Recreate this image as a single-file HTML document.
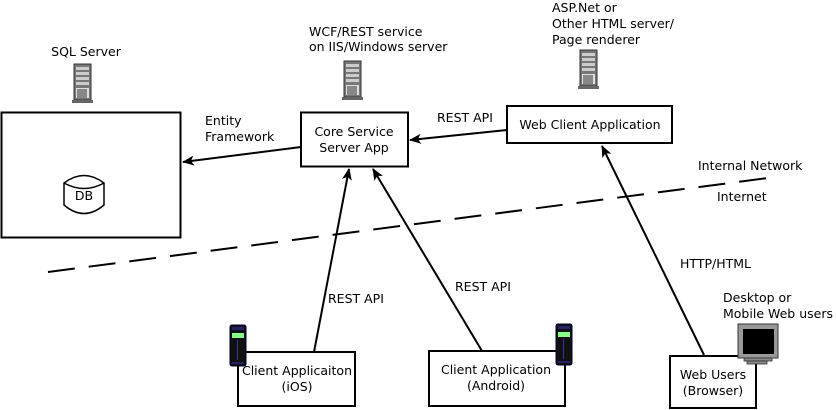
<!DOCTYPE html>
<html><head><meta charset="utf-8"><style>
html,body{margin:0;padding:0;background:#fff}
svg{display:block}
text{font-family:"DejaVu Sans","Liberation Sans",sans-serif;font-size:12.5px;fill:#000}
</style></head><body>
<svg width="836" height="410" viewBox="0 0 836 410" xmlns="http://www.w3.org/2000/svg">
<defs>
<marker id="ah" viewBox="0 0 12 10" refX="11" refY="5" markerWidth="12" markerHeight="10" markerUnits="userSpaceOnUse" orient="auto">
<path d="M0,0 L12,5 L0,10 L3,5 Z" fill="#000"/>
</marker>
<g id="srv">
<rect x="2" y="0" width="17" height="36" fill="#777" stroke="#333" stroke-width="1"/>
<rect x="4" y="3" width="13" height="3" fill="#ccc"/>
<rect x="4" y="8" width="13" height="3" fill="#ccc"/>
<rect x="4" y="13" width="13" height="3" fill="#ccc"/>
<rect x="4" y="18" width="13" height="3" fill="#ccc"/>
<rect x="4" y="24" width="13" height="10" fill="#ddd"/>
<path d="M6,25V34M8,25V34M10,25V34M12,25V34M14,25V34" stroke="#333" stroke-width="1"/>
<rect x="0" y="36" width="21" height="3" fill="#666"/>
</g>
<g id="phone">
<rect x="0" y="0" width="16" height="41" rx="2" fill="#111" stroke="#003" stroke-width="1"/>
<rect x="2" y="2" width="12" height="3" fill="#226"/>
<rect x="2" y="8" width="12" height="5" fill="#8f8"/>
<rect x="7" y="15" width="1" height="20" fill="#33a"/>
<rect x="2" y="37" width="12" height="2" fill="#226"/>
</g>
</defs>

<rect x="1.5" y="112.5" width="179" height="125" fill="#fff" stroke="#000" stroke-width="2"/>
<text x="86" y="56" text-anchor="middle">SQL Server</text>
<use href="#srv" x="72" y="64"/>
<path d="M64,183 Q84,168 104,183 L104,205 Q84,222 64,205 Z" fill="#fff" stroke="#000" stroke-width="1.5"/>
<path d="M64,183 Q84,194 104,183" fill="none" stroke="#000" stroke-width="1.5"/>
<text x="84" y="200" text-anchor="middle">DB</text>

<rect x="301" y="112.5" width="107" height="54" fill="#fff" stroke="#000" stroke-width="2"/>
<text x="354" y="136" text-anchor="middle">Core Service</text>
<text x="354" y="152" text-anchor="middle">Server App</text>
<text x="309" y="36">WCF/REST service</text>
<text x="309" y="51">on IIS/Windows server</text>
<use href="#srv" x="342" y="61"/>

<rect x="507" y="106" width="165" height="37" fill="#fff" stroke="#000" stroke-width="2"/>
<text x="590" y="129" text-anchor="middle">Web Client Application</text>
<text x="552" y="12">ASP.Net or</text>
<text x="552" y="28">Other HTML server/</text>
<text x="552" y="44">Page renderer</text>
<use href="#srv" x="578" y="50"/>

<line x1="301" y1="147" x2="183" y2="162" stroke="#000" stroke-width="2" marker-end="url(#ah)"/>
<text x="205" y="125">Entity</text>
<text x="205" y="141">Framework</text>
<line x1="507" y1="130" x2="410" y2="140" stroke="#000" stroke-width="2" marker-end="url(#ah)"/>
<text x="437" y="122">REST API</text>

<line x1="48" y1="272" x2="768" y2="178" stroke="#000" stroke-width="2" stroke-dasharray="27,14"/>
<text x="698" y="170">Internal Network</text>
<text x="717" y="201">Internet</text>

<line x1="314" y1="352" x2="349" y2="169" stroke="#000" stroke-width="2" marker-end="url(#ah)"/>
<text x="328" y="303">REST API</text>
<line x1="482" y1="351" x2="373" y2="169" stroke="#000" stroke-width="2" marker-end="url(#ah)"/>
<text x="455" y="291">REST API</text>
<line x1="704" y1="355" x2="602" y2="146" stroke="#000" stroke-width="2" marker-end="url(#ah)"/>
<text x="680" y="268">HTTP/HTML</text>

<rect x="238" y="352" width="117" height="54" fill="#fff" stroke="#000" stroke-width="2"/>
<text x="297" y="375" text-anchor="middle">Client Applicaiton</text>
<text x="297" y="391" text-anchor="middle">(iOS)</text>
<use href="#phone" x="230" y="325"/>

<rect x="429" y="351" width="136" height="55" fill="#fff" stroke="#000" stroke-width="2"/>
<text x="496" y="374" text-anchor="middle">Client Application</text>
<text x="496" y="390" text-anchor="middle">(Android)</text>
<use href="#phone" x="556" y="324"/>

<rect x="670" y="356" width="86" height="52" fill="#fff" stroke="#000" stroke-width="2"/>
<text x="713" y="379" text-anchor="middle">Web Users</text>
<text x="713" y="395" text-anchor="middle">(Browser)</text>
<text x="723" y="302">Desktop or</text>
<text x="723" y="318">Mobile Web users</text>
<rect x="738" y="324" width="40" height="34" fill="#999" stroke="#333" stroke-width="1"/>
<rect x="743" y="329" width="31" height="25" fill="#000"/>
<rect x="744" y="358" width="28" height="3" fill="#888" stroke="#333" stroke-width="0.8"/>
<rect x="747" y="361" width="20" height="3" fill="#888" stroke="#333" stroke-width="0.8"/>
<line x1="756" y1="364" x2="756" y2="372" stroke="#000" stroke-width="1"/>
</svg>
</body></html>
